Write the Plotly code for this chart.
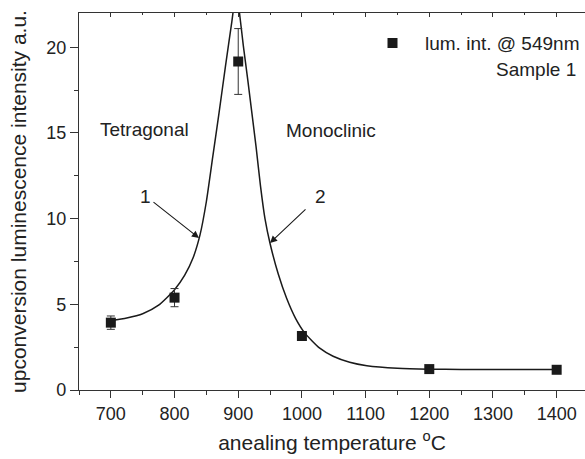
import plotly.graph_objects as go

# measured data
temp = [700, 800, 900, 1000, 1200, 1400]
lum = [3.93, 5.39, 19.17, 3.15, 1.22, 1.18]
lum_err = [0.39, 0.53, 1.92, 0.22, 0.08, 0.08]

# fitted curve
fit_x = [700, 725, 750, 775, 800, 816, 829, 840, 850, 860, 870, 880, 890, 897,
         902, 908, 915, 921, 928, 935, 942, 950, 963, 976, 990, 1004, 1028, 1049, 1075, 1102,
         1150, 1200, 1250, 1300, 1400]
fit_y = [4.04, 4.20, 4.45, 4.95, 5.85, 6.70, 7.70, 9.05, 11.0, 13.6, 16.2, 18.9, 21.5, 23.3,
         22.0, 20.1, 18.1, 16.3, 14.2, 11.9, 10.0, 8.55, 6.75, 5.35, 4.18, 3.35, 2.44, 1.97, 1.62, 1.42,
         1.27, 1.215, 1.20, 1.19, 1.19]

x_ticks = [700, 800, 900, 1000, 1100, 1200, 1300, 1400]
y_ticks = [0, 5, 10, 15, 20]

FONT = "Liberation Sans, Arial, sans-serif"
INK = "#1a1a1a"
TXT = "#222"

fig = go.Figure()
fig.add_trace(go.Scatter(x=fit_x, y=fit_y, mode="lines",
                         line=dict(color=INK, width=1.5, shape="spline", smoothing=0.6),
                         showlegend=False, hoverinfo="skip"))
fig.add_trace(go.Scatter(x=temp, y=lum, mode="markers", name="lum. int. @ 549nm",
                         marker=dict(symbol="square", size=10, color=INK),
                         error_y=dict(type="data", array=lum_err, color="#333", thickness=1, width=4),
                         showlegend=True))
# invisible trace for top axis ticks
fig.add_trace(go.Scatter(x=[650, 1444.5], y=[0, 0], xaxis="x2", mode="markers",
                         marker=dict(opacity=0), showlegend=False, hoverinfo="skip"))

axis_common = dict(showgrid=False, zeroline=False, linecolor="#333", linewidth=1.2,
                   tickcolor="#333", tickfont=dict(family=FONT, size=18, color=TXT))
fig.update_layout(
    width=585, height=459,
    margin=dict(l=79, r=0, t=13, b=69),
    paper_bgcolor="white", plot_bgcolor="white",
    font=dict(family=FONT, color=TXT),
    showlegend=True,
    legend=dict(x=1.0, xanchor="right", y=0.92, yanchor="middle", bgcolor="rgba(0,0,0,0)",
                borderwidth=0, font=dict(family=FONT, size=19, color=TXT), itemwidth=55),
    xaxis=dict(range=[650, 1444.5], tickvals=x_ticks, ticks="outside", ticklen=7,
               minor=dict(dtick=50, ticks="outside", ticklen=4, tickcolor="#333"),
               title=dict(text="anealing temperature <sup>o</sup>C",
                          font=dict(family=FONT, size=21, color=TXT), standoff=12),
               **axis_common),
    xaxis2=dict(range=[650, 1444.5], overlaying="x", side="top", tickvals=x_ticks, ticks="inside",
                ticklen=4, showticklabels=False, showline=True, showgrid=False, zeroline=False,
                linecolor="#333", linewidth=1.2, tickcolor="#333",
                minor=dict(dtick=50, ticks="inside", ticklen=2, tickcolor="#333")),
    yaxis=dict(range=[0, 22], tickvals=y_ticks, ticks="outside", ticklen=8,
               minor=dict(dtick=2.5, ticks="outside", ticklen=4, tickcolor="#333"),
               title=dict(text="upconversion luminescence intensity a.u.",
                          font=dict(family=FONT, size=21, color=TXT), standoff=13),
               **axis_common),
)

ann_font = dict(family=FONT, size=19, color=TXT)


def to_paper(px, py):
    return (px - 79) / 506.0, 1 - (py - 13) / 377.0


for text, px, py, anc in [("Tetragonal", 144, 129, "center"), ("Monoclinic", 331, 130, "center"),
                          ("1", 145, 196, "center"), ("2", 320, 196, "center"),
                          ("Sample 1", 578, 70, "right")]:
    xp, yp = to_paper(px, py)
    fig.add_annotation(x=xp, y=yp, xref="paper", yref="paper", text=text, showarrow=False,
                       xanchor=anc, yanchor="middle", font=ann_font)

# arrows
for tx, ty, sx, sy in [(199, 238, 152, 201), (270, 243, 307, 208)]:
    txp, typ = to_paper(tx, ty)
    fig.add_annotation(x=txp, y=typ, ax=sx - tx, ay=sy - ty, xref="paper", yref="paper",
                       text="", showarrow=True, arrowhead=2, arrowsize=1.3, arrowwidth=1.1, arrowcolor=INK)

fig.write_html("out.html")
